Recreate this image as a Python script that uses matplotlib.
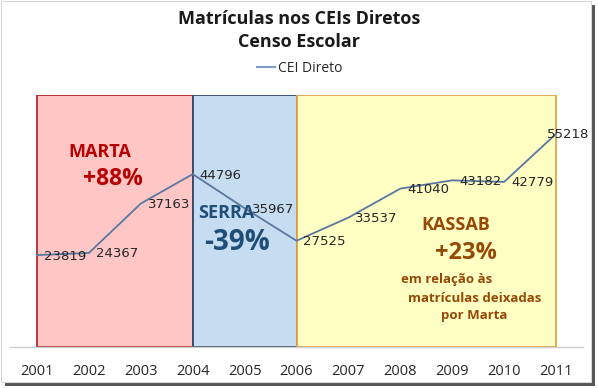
import matplotlib
matplotlib.use("Agg")
from matplotlib import pyplot as plt
from matplotlib.patches import Rectangle
from matplotlib.lines import Line2D

# data
years = [2001, 2002, 2003, 2004, 2005, 2006, 2007, 2008, 2009, 2010, 2011]
matriculas = [23819, 24367, 37163, 44796, 35967, 27525, 33537, 41040, 43182, 42779, 55218]
tick_labels = [str(y) for y in years]

# government periods: (start, end, fill, edge)
periods = [
    (2001, 2004, '#ffc6c6', '#b02a2a'),
    (2004, 2006, '#c6dcf0', '#33496b'),
    (2006, 2011, '#ffffc4', '#e2a24c'),
]

W, H = 598, 388
plt.rcParams['font.family'] = ['Open Sans', 'DejaVu Sans']

fig = plt.figure(figsize=(W / 100, H / 100), dpi=100)
fig.patch.set_facecolor('white')


def px(x, y):
    # pixel coords (top-left origin) -> figure fraction
    return x / W, 1 - y / H


# picture frame with drop shadow
fig.add_artist(Rectangle((5 / W, 1 - 386 / H), 590 / W, 4 / H, transform=fig.transFigure,
                         facecolor='#555555', edgecolor='none', zorder=-4))
fig.add_artist(Rectangle((591 / W, 1 - 386 / H), 4 / W, 381 / H, transform=fig.transFigure,
                         facecolor='#555555', edgecolor='none', zorder=-4))
fig.add_artist(Rectangle((1 / W, 1 - 382 / H), 590 / W, 381 / H, transform=fig.transFigure,
                         facecolor='white', edgecolor='#d8d8d8', lw=0.8, zorder=-3))

left, right = 10 / W, 583 / W
bottom, top = 1 - 347 / H, 1 - 95 / H
ax = fig.add_axes([left, bottom, right - left, top - bottom])
ax.set_facecolor('none')

for x0, x1, fc, ec in periods:
    ax.add_patch(Rectangle((x0, 0), x1 - x0, 65300, facecolor=fc, edgecolor=ec,
                           lw=1.3, zorder=1))

line_color = '#5878a0'
ax.plot(years, matriculas, color=line_color, lw=1.3, zorder=3)

for i, (x, v) in enumerate(zip(years, matriculas)):
    dx = -9 if i == len(years) - 1 else 7
    ax.annotate(str(v), (x, v), xytext=(dx, -1), textcoords='offset pixels',
                ha='left', va='center', fontsize=9.5, color='#262626',
                family='DejaVu Sans', zorder=4)

ax.set_xlim(2000.48, 2011.52)
ax.set_ylim(0, 65300)
ax.set_xticks(years)
ax.set_xticklabels(tick_labels, fontsize=10.5, color='#262626')
ax.tick_params(axis='x', length=0, pad=12)
ax.set_yticks([])
for s in ['top', 'left', 'right']:
    ax.spines[s].set_visible(False)
ax.spines['bottom'].set_color('#d0d0d0')
ax.spines['bottom'].set_linewidth(1.0)

# annotations inside the boxes
def note(x, y, s, size, color, weight='bold'):
    fig.text(*px(x, y), s, ha='center', va='center', fontsize=size,
             color=color, weight=weight)

note(100, 152, 'MARTA', 13, '#b80000')
note(113, 179, '+88%', 16.5, '#b80000')
note(226, 213, 'SERRA', 13, '#1f4e79')
note(237, 243, '-39%', 20, '#1f4e79')
kassab = '#974806'
note(456, 225, 'KASSAB', 13, kassab)
note(466, 253, '+23%', 17, kassab)
note(447, 280, 'em relação às', 9.5, kassab)
note(475, 298, 'matrículas deixadas', 9.5, kassab)
note(474, 315, 'por Marta', 9.5, kassab)

# title and legend
note(299, 19, 'Matrículas nos CEIs Diretos', 13, '#1a1a1a')
note(299, 42, 'Censo Escolar', 13, '#1a1a1a')
fig.legend([Line2D([], [], color='#7f9cc2', lw=1.5)], ['CEI Direto'],
           loc='center', bbox_to_anchor=px(300, 68), frameon=False,
           fontsize=10, handlelength=1.3, handletextpad=0.2,
           labelcolor='#262626')

fig.savefig('out.png', dpi=100)
